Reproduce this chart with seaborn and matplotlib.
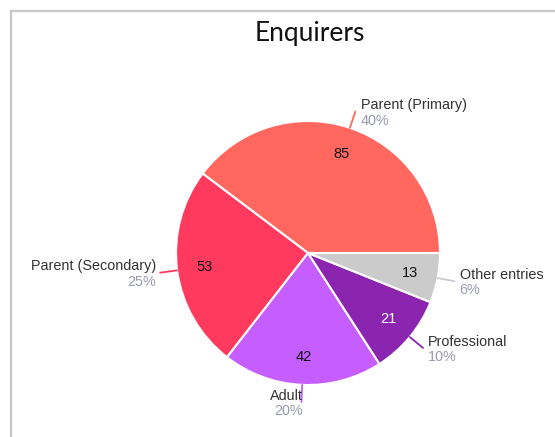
import numpy as np
import matplotlib
matplotlib.use("Agg")
import matplotlib.pyplot as plt
import seaborn as sns
from matplotlib.patches import Rectangle

categories = ["Parent (Primary)", "Parent (Secondary)", "Adult", "Professional", "Other entries"]
counts = [85, 53, 42, 21, 13]
slice_colors = ["#FF675F", "#FF3A5E", "#C65EFF", "#8B25AF", "#CBCBCB"]
value_text_colors = ["#111111", "#111111", "#111111", "#FFFFFF", "#111111"]

sns.set_style("white")
plt.rcParams["font.family"] = ["Liberation Sans", "DejaVu Sans"]

W, H = 555, 437
fig = plt.figure(figsize=(W / 100, H / 100), dpi=100)

# gray frame (only left/top edges visible in the crop)
fig.patches.append(Rectangle((11 / W, -0.1), 1.2, 1.1 - 11 / H, transform=fig.transFigure,
                             fill=False, edgecolor="#C8C8C8", linewidth=1.6))

cx, cy, r = 308, 253, 132
ax = fig.add_axes([(cx - r) / W, (H - cy - r) / H, 2 * r / W, 2 * r / H])

total = sum(counts)
wedges, _, autotexts = ax.pie(
    counts, colors=slice_colors, startangle=0, counterclock=True,
    autopct=lambda p: f"{round(p * total / 100)}", pctdistance=0.79,
    wedgeprops=dict(edgecolor="white", linewidth=1.5),
    textprops=dict(fontsize=10.5),
)
for t, c in zip(autotexts, value_text_colors):
    t.set_color(c)

ax.set_xlim(-1, 1)
ax.set_ylim(-1, 1)
ax.set_aspect("equal")
ax.axis("off")

for w, name, n in zip(wedges, categories, counts):
    ang = np.deg2rad((w.theta1 + w.theta2) / 2)
    x0, y0 = np.cos(ang), np.sin(ang)
    x1, y1 = 1.13 * x0, 1.13 * y0
    ax.plot([x0, x1], [y0, y1], color=w.get_facecolor(), lw=1.3, clip_on=False)
    right = x0 >= 0
    ha = "left" if right else "right"
    dx = 0.04 if right else -0.03
    if abs(x0) < 0.1:
        dx = 0.01
    pct = f"{round(100 * n / total)}%"
    ax.text(x1 + dx, y1 - 0.005, name, ha=ha, va="bottom", fontsize=10.4, color="#333333")
    ax.text(x1 + dx, y1 - 0.015, pct, ha=ha, va="top", fontsize=10.4, color="#9A9CB0")

fig.text(310 / W, 1 - 34 / H, "Enquirers", ha="center", va="center",
         fontsize=19, family=["Lato", "DejaVu Sans"], color="#111111")

fig.savefig("out.png", dpi=100)
